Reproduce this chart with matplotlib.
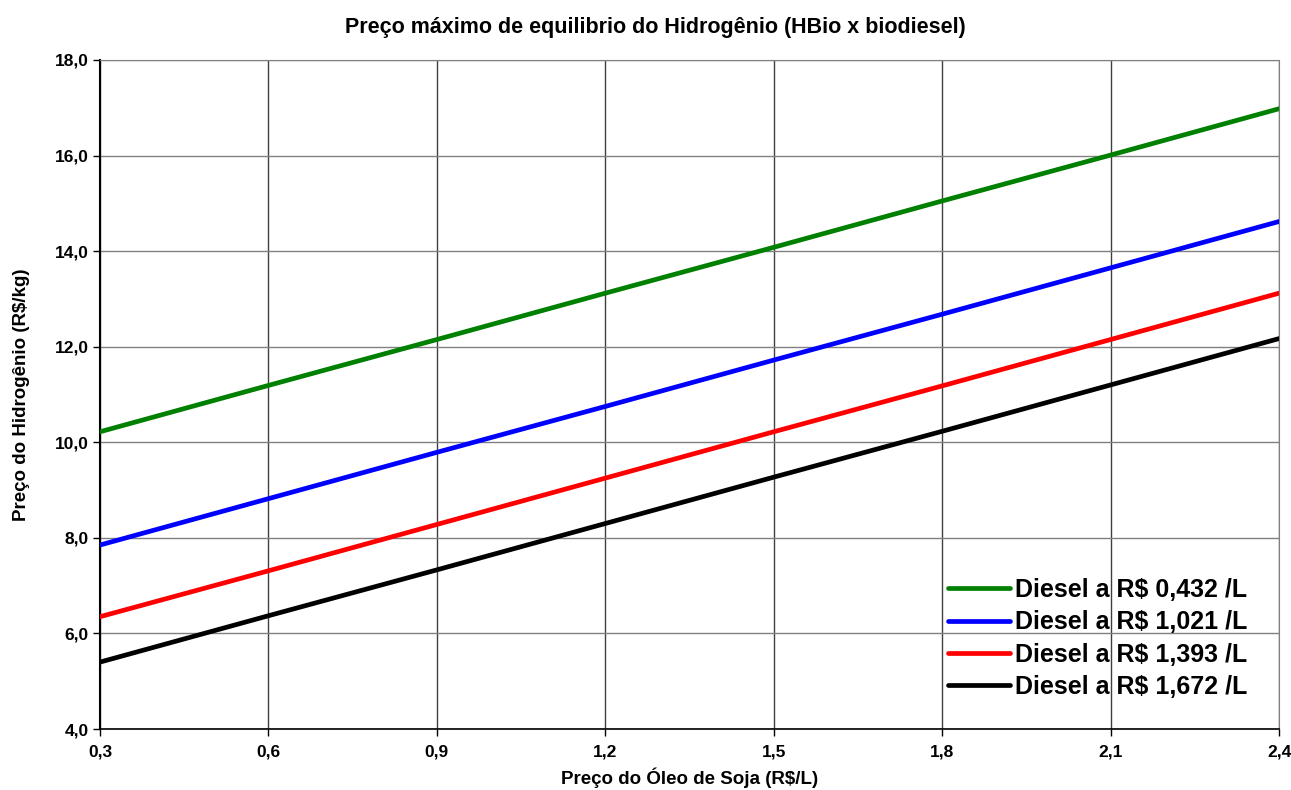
import matplotlib
matplotlib.use("Agg")
import matplotlib.pyplot as plt
from matplotlib.ticker import FixedLocator

plt.rcParams['font.family'] = ['Liberation Sans', 'DejaVu Sans']
plt.rcParams['font.weight'] = 'bold'

oil_price = [0.3, 0.6, 0.9, 1.2, 1.5, 1.8, 2.1, 2.4]
h2_diesel_0432 = [10.22, 11.19, 12.15, 13.12, 14.08, 15.05, 16.01, 16.98]
h2_diesel_1021 = [7.85, 8.82, 9.79, 10.75, 11.72, 12.68, 13.65, 14.62]
h2_diesel_1393 = [6.35, 7.31, 8.28, 9.25, 10.22, 11.18, 12.15, 13.12]
h2_diesel_1672 = [5.40, 6.37, 7.33, 8.30, 9.27, 10.23, 11.20, 12.17]
labels = ["Diesel a R$ 0,432 /L", "Diesel a R$ 1,021 /L",
          "Diesel a R$ 1,393 /L", "Diesel a R$ 1,672 /L"]
colors = ["#008000", "#0000ff", "#ff0000", "#000000"]
x_ticks = [0.3, 0.6, 0.9, 1.2, 1.5, 1.8, 2.1, 2.4]
x_ticklabels = ["0,3", "0,6", "0,9", "1,2", "1,5", "1,8", "2,1", "2,4"]
y_ticks = [4, 6, 8, 10, 12, 14, 16, 18]
y_ticklabels = ["4,0", "6,0", "8,0", "10,0", "12,0", "14,0", "16,0", "18,0"]

fig = plt.figure(figsize=(12.91, 7.90), dpi=100)
ax = fig.add_axes([100/1291, 1-729/790, (1279-100)/1291, (729-60)/790])

series = [h2_diesel_0432, h2_diesel_1021, h2_diesel_1393, h2_diesel_1672]
for ys, c, lab in zip(series, colors, labels):
    ax.plot(oil_price, ys, color=c, lw=3.4, label=lab, solid_capstyle='round', zorder=3)

ax.set_xlim(0.3, 2.4)
ax.set_ylim(4, 18)
ax.xaxis.set_major_locator(FixedLocator(x_ticks))
ax.yaxis.set_major_locator(FixedLocator(y_ticks))
ax.set_xticklabels(x_ticklabels)
ax.set_yticklabels(y_ticklabels)
ax.tick_params(axis='both', direction='out', length=5, width=1, labelsize=12.5, color='black')
ax.tick_params(axis='x', pad=6)
ax.tick_params(axis='y', pad=3)
for lbl in ax.get_xticklabels() + ax.get_yticklabels():
    lbl.set_fontweight('bold')

ax.xaxis.grid(True, color='#404040', lw=1)
ax.yaxis.grid(True, color='#808080', lw=1)
ax.set_axisbelow(True)
ax.spines['left'].set_color('black')
ax.spines['bottom'].set_color('black')
ax.spines['left'].set_linewidth(1.5)
ax.spines['bottom'].set_linewidth(1.2)
ax.spines['top'].set_color('#808080')
ax.spines['right'].set_color('#808080')

ax.set_xlabel("Preço do Óleo de Soja (R$/L)", fontsize=13.5, fontweight='bold', labelpad=6)
ax.set_ylabel("Preço do Hidrogênio (R$/kg)", fontsize=13.5, fontweight='bold', labelpad=18)
fig.text(655/1291, 1-28/790, "Preço máximo de equilibrio do Hidrogênio (HBio x biodiesel)",
         ha='center', va='center', fontsize=15.5, fontweight='bold')

leg = ax.legend(loc='upper left', bbox_to_anchor=(938/1291, 1-568/790),
                bbox_transform=fig.transFigure, frameon=False,
                prop={'size': 18, 'weight': 'bold'}, handlelength=2.5,
                handletextpad=0.2, labelspacing=0.33, borderaxespad=0)
for h in leg.get_lines():
    h.set_linewidth(3.4)

fig.savefig("out.png", dpi=100)
